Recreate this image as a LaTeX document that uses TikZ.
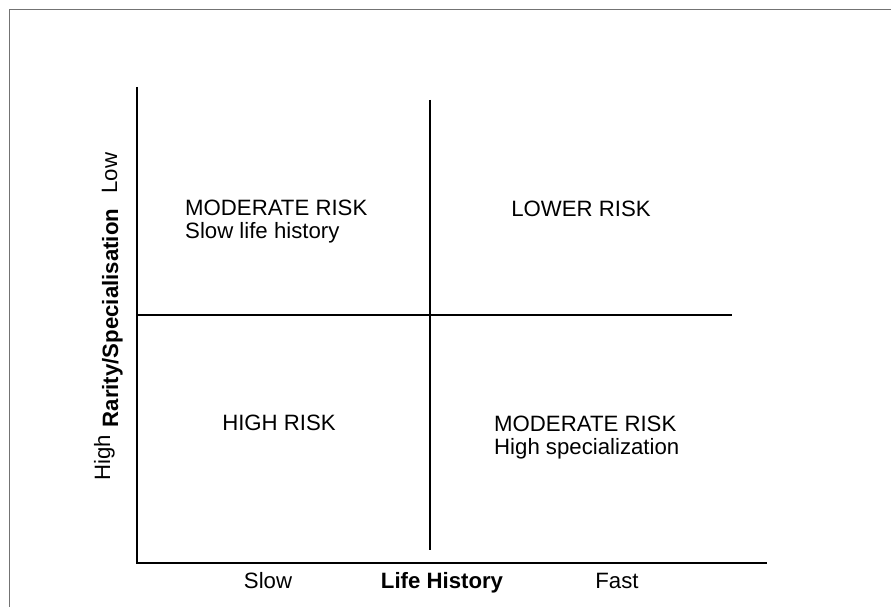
\documentclass[tikz,border=0pt]{standalone}
\usepackage{fontspec}
\setmainfont{Liberation Sans}
\usetikzlibrary{positioning}

\tikzstyle{axis}=[-, line width=1.4pt, black]
\tikzstyle{divider}=[-, line width=1.6pt, black]
\tikzstyle{frame}=[-, line width=1.6pt, black!55!white]
\tikzstyle{quad}=[inner sep=0pt, align=left, font=\fontsize{22.2}{22.5}\selectfont]
\tikzstyle{tick}=[inner sep=0pt, font=\fontsize{22.2}{23}\selectfont]
\tikzstyle{title}=[inner sep=0pt, font=\fontsize{22.2}{23}\selectfont\bfseries]

\begin{document}
\begin{tikzpicture}[x=1pt, y=-1pt]
  \useasboundingbox (0,0) rectangle (891,607);

  % page frame, top and left edge only
  \coordinate (ftl) at (9.5,9.5);
  \coordinate (ftr) at (891,9.5);
  \coordinate (fbl) at (9.5,607);
  \draw[frame] (ftr) -- (ftl) -- (fbl);

  % axes
  \coordinate (origin) at (137,563);
  \coordinate (ytop) at (137,87);
  \coordinate (xend) at (767,563);
  \draw[axis] (ytop) -- (origin) -- (xend);

  % quadrant dividers
  \coordinate (vtop) at (430,100);
  \coordinate (vbot) at (430,550);
  \coordinate (hleft) at (137,315);
  \coordinate (hright) at (732,315);
  \draw[divider] (vtop) -- (vbot);
  \draw[divider] (hleft) -- (hright);

  % quadrant texts (base = last line)
  \node (modslow) [quad, anchor=base west] at (185,238) {MODERATE RISK\\Slow life history};
  \node (lower) [quad, anchor=base] at (581,216) {LOWER RISK};
  \node (high) [quad, anchor=base] at (279,430) {HIGH RISK};
  \node (modspec) [quad, anchor=base west] at (494,454) {MODERATE RISK\\High specialization};

  % x axis labels
  \node (xtitle) [title, anchor=base] at (442,588) {Life History};
  \node (slow) [tick, anchor=base] at (268,588) {Slow};
  \node (fast) [tick, anchor=base] at (617,588) {Fast};

  % y axis labels
  \node (ytitle) [title, rotate=90, anchor=base] at (118,318) {Rarity/Specialisation};
  \node (lowy) [tick, rotate=90, anchor=base] at (117,173) {Low};
  \node (highy) [tick, rotate=90, anchor=base] at (110,458) {High};
\end{tikzpicture}
\end{document}
